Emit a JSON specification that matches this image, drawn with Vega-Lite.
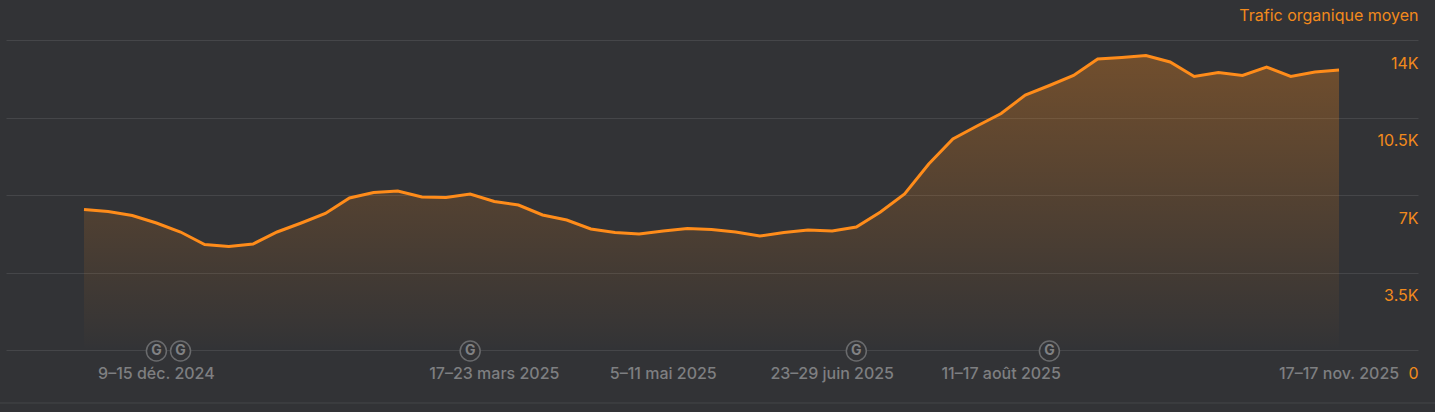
{
  "$schema": "https://vega.github.io/schema/vega-lite/v6.json",
  "width": 1412,
  "height": 310,
  "autosize": "none",
  "padding": {"left": 6, "top": 40, "right": 17, "bottom": 62},
  "background": "#323336",
  "config": {"view": {"stroke": null}, "font": "Inter"},
  "datasets": {
    "traffic": [
      {"week": "2024-11-18", "traffic": 6345},
      {"week": "2024-11-25", "traffic": 6255},
      {"week": "2024-12-02", "traffic": 6074},
      {"week": "2024-12-09", "traffic": 5735},
      {"week": "2024-12-16", "traffic": 5329},
      {"week": "2024-12-23", "traffic": 4765},
      {"week": "2024-12-30", "traffic": 4674},
      {"week": "2025-01-06", "traffic": 4787},
      {"week": "2025-01-13", "traffic": 5329},
      {"week": "2025-01-20", "traffic": 5735},
      {"week": "2025-01-27", "traffic": 6165},
      {"week": "2025-02-03", "traffic": 6864},
      {"week": "2025-02-10", "traffic": 7113},
      {"week": "2025-02-17", "traffic": 7181},
      {"week": "2025-02-24", "traffic": 6910},
      {"week": "2025-03-03", "traffic": 6887},
      {"week": "2025-03-10", "traffic": 7045},
      {"week": "2025-03-17", "traffic": 6706},
      {"week": "2025-03-24", "traffic": 6548},
      {"week": "2025-03-31", "traffic": 6097},
      {"week": "2025-04-07", "traffic": 5871},
      {"week": "2025-04-14", "traffic": 5465},
      {"week": "2025-04-21", "traffic": 5306},
      {"week": "2025-04-28", "traffic": 5239},
      {"week": "2025-05-05", "traffic": 5374},
      {"week": "2025-05-12", "traffic": 5487},
      {"week": "2025-05-19", "traffic": 5442},
      {"week": "2025-05-26", "traffic": 5329},
      {"week": "2025-06-02", "traffic": 5148},
      {"week": "2025-06-09", "traffic": 5306},
      {"week": "2025-06-16", "traffic": 5419},
      {"week": "2025-06-23", "traffic": 5374},
      {"week": "2025-06-30", "traffic": 5555},
      {"week": "2025-07-07", "traffic": 6232},
      {"week": "2025-07-14", "traffic": 7045},
      {"week": "2025-07-21", "traffic": 8400},
      {"week": "2025-07-28", "traffic": 9529},
      {"week": "2025-08-04", "traffic": 10116},
      {"week": "2025-08-11", "traffic": 10680},
      {"week": "2025-08-18", "traffic": 11516},
      {"week": "2025-08-25", "traffic": 11945},
      {"week": "2025-09-01", "traffic": 12397},
      {"week": "2025-09-08", "traffic": 13142},
      {"week": "2025-09-15", "traffic": 13209},
      {"week": "2025-09-22", "traffic": 13300},
      {"week": "2025-09-29", "traffic": 13006},
      {"week": "2025-10-06", "traffic": 12352},
      {"week": "2025-10-13", "traffic": 12532},
      {"week": "2025-10-20", "traffic": 12397},
      {"week": "2025-10-27", "traffic": 12780},
      {"week": "2025-11-03", "traffic": 12352},
      {"week": "2025-11-10", "traffic": 12555},
      {"week": "2025-11-17", "traffic": 12645}
    ],
    "ticks": [
      {"week": "2024-12-09", "label": "9–15 déc. 2024"},
      {"week": "2025-03-17", "label": "17–23 mars 2025"},
      {"week": "2025-05-05", "label": "5–11 mai 2025"},
      {"week": "2025-06-23", "label": "23–29 juin 2025"},
      {"week": "2025-08-11", "label": "11–17 août 2025"},
      {"week": "2025-11-17", "label": "17–17 nov. 2025"}
    ],
    "updates": [
      {"week": "2024-12-09", "mark": "G"},
      {"week": "2024-12-16", "mark": "G"},
      {"week": "2025-03-10", "mark": "G"},
      {"week": "2025-06-30", "mark": "G"},
      {"week": "2025-08-25", "mark": "G"}
    ]
  },
  "encoding": {
    "x": {
      "field": "week",
      "type": "temporal",
      "axis": null,
      "scale": {"domain": ["2024-10-26T09:00:00Z", "2025-12-09T21:40:00Z"], "nice": false}
    }
  },
  "layer": [
    {
      "data": {"name": "traffic"},
      "mark": {
        "type": "area",
        "clip": false,
        "color": {
          "gradient": "linear",
          "x1": 0, "y1": 0, "x2": 0, "y2": 1,
          "stops": [
            {"offset": 0, "color": "rgba(255,140,26,0.31)"},
            {"offset": 0.95, "color": "rgba(255,140,26,0.02)"},
            {"offset": 1, "color": "rgba(255,140,26,0)"}
          ]
        }
      },
      "encoding": {
        "y": {
          "field": "traffic",
          "type": "quantitative",
          "scale": {"domain": [0, 14000], "nice": false},
          "axis": {
            "orient": "right",
            "values": [0, 3500, 7000, 10500, 14000],
            "labelExpr": "datum.value == 0 ? '0' : datum.value / 1000 + 'K'",
            "grid": true,
            "gridColor": "#454649",
            "gridWidth": 1,
            "domain": false,
            "ticks": false,
            "labelAlign": "right",
            "labelBaseline": "middle",
            "labelPadding": 0,
            "labelOffset": 23,
            "labelFlush": false,
            "labelOverlap": false,
            "labelColor": "#f28a1c",
            "labelFontSize": 16,
            "title": "Trafic organique moyen",
            "titleColor": "#f28a1c",
            "titleFontSize": 16,
            "titleFontWeight": "normal",
            "titleAngle": 0,
            "titleAlign": "right",
            "titleBaseline": "middle",
            "titleX": 0,
            "titleY": -25
          }
        }
      }
    },
    {
      "data": {"name": "traffic"},
      "mark": {"type": "line", "color": "#ff8c1a", "strokeWidth": 3, "clip": false},
      "encoding": {"y": {"field": "traffic", "type": "quantitative"}}
    },
    {
      "data": {"name": "ticks"},
      "mark": {"type": "text", "color": "#7e7f81", "fontSize": 16, "fontWeight": 500, "dy": 24, "baseline": "middle", "align": "center"},
      "encoding": {"y": {"datum": 0}, "text": {"field": "label"}}
    },
    {
      "data": {"name": "updates"},
      "mark": {"type": "point", "shape": "circle", "size": 400, "filled": false, "fill": "#323336", "fillOpacity": 1, "stroke": "#6a6b6d", "strokeWidth": 1.5, "opacity": 1, "yOffset": 1},
      "encoding": {"y": {"datum": 0}}
    },
    {
      "data": {"name": "updates"},
      "mark": {"type": "text", "color": "#808183", "fontSize": 14, "fontWeight": "bold", "dy": 1, "baseline": "middle", "align": "center"},
      "encoding": {"y": {"datum": 0}, "text": {"field": "mark"}}
    },
    {
      "data": {"values": [{"from": "2024-10-24T15:00:00Z", "to": "2025-12-14T20:00:00Z", "level": -2393}]},
      "mark": {"type": "rule", "color": "#454649", "strokeWidth": 1},
      "encoding": {
        "x": {"field": "from", "type": "temporal"},
        "x2": {"field": "to"},
        "y": {"field": "level", "type": "quantitative"}
      }
    }
  ]
}
